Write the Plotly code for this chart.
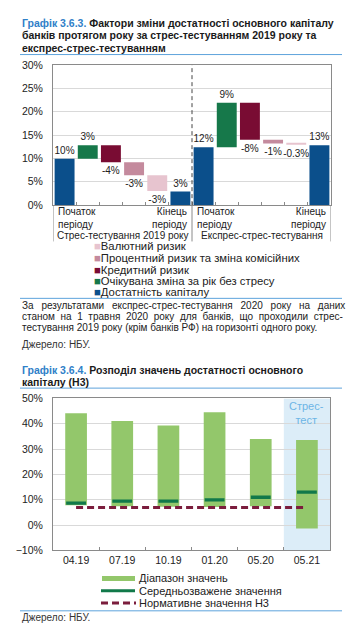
import plotly.graph_objects as go
import numpy as np

W, H = 351, 633
FONT = "Liberation Sans, Arial, sans-serif"

# ---------------- Chart 1 data ----------------
groups1 = ["Стрес-тестування 2019 року", "Експрес-стрес-тестування"]
start_vals = [9.9, 12.4]
changes = {
    "Очікувана зміна за рік без стресу": [2.9, 9.5],
    "Кредитний ризик": [-3.6, -7.9],
    "Процентний ризик та зміна комісійних": [-2.8, -0.8],
    "Валютний ризик": [-3.4, -0.3],
}
end_vals = [2.9, 12.8]
labels_g1 = ["10%", "3%", "-4%", "-3%", "-3%", "3%"]
labels_g2 = ["12%", "9%", "-8%", "-1%", "-0.3%", "13%"]
colors1 = {
    "Достатність капіталу": "#0b4f8b",
    "Очікувана зміна за рік без стресу": "#16784a",
    "Кредитний ризик": "#790c33",
    "Процентний ризик та зміна комісійних": "#c48a9d",
    "Валютний ризик": "#e7c4cf",
}
legend_order1 = ["Валютний ризик", "Процентний ризик та зміна комісійних",
                 "Кредитний ризик", "Очікувана зміна за рік без стресу",
                 "Достатність капіталу"]

# ---------------- Chart 2 data ----------------
periods = ["04.19", "07.19", "10.19", "01.20", "05.20", "05.21"]
range_min = [7.8, 7.5, 7.3, 7.2, 7.5, -1.3]
range_max = [44.1, 41.1, 39.3, 44.5, 34.0, 33.6]
weighted_avg = [8.7, 9.5, 9.5, 10.0, 11.0, 13.0]
normative = [7, 7, 7, 7, 7, 7]


def px(v):
    return v / W


def py(v):
    return 1 - v / H


fig = go.Figure()

# ---- waterfall chart 1 ----
n_per = 6
labels_all = [labels_g1, labels_g2]
blue_x, blue_y, blue_t = [], [], []
series_data = {k: ([], [], [], []) for k in changes}
for g in range(2):
    off = g * n_per
    level = start_vals[g]
    blue_x.append(off)
    blue_y.append(start_vals[g])
    blue_t.append(labels_all[g][0])
    for i, k in enumerate(changes):
        d = changes[k][g]
        xs, ys, bs, ts = series_data[k]
        xs.append(off + 1 + i)
        ys.append(d)
        bs.append(level)
        ts.append(labels_all[g][1 + i])
        level += d
    blue_x.append(off + 5)
    blue_y.append(end_vals[g])
    blue_t.append(labels_all[g][5])

common_bar = dict(xaxis="x", yaxis="y", width=0.86, textposition="outside",
                  constraintext="none", cliponaxis=False, showlegend=False,
                  textfont=dict(size=10, color="#222", family=FONT),
                  marker_line_width=0)
fig.add_trace(go.Bar(x=blue_x, y=blue_y, text=blue_t,
                     marker_color=colors1["Достатність капіталу"], **common_bar))
for k in changes:
    xs, ys, bs, ts = series_data[k]
    fig.add_trace(go.Bar(x=xs, y=ys, base=bs, text=ts,
                         marker_color=colors1[k], **common_bar))

# ---- chart 2 ----
fig.add_trace(go.Bar(
    x=periods, y=[a - b for a, b in zip(range_max, range_min)], base=range_min,
    width=0.47, marker_color="#93c76b", marker_line_width=0,
    xaxis="x2", yaxis="y2", showlegend=False))
fig.add_trace(go.Bar(
    x=periods, y=[1.3] * len(periods), base=[v - 0.65 for v in weighted_avg],
    width=0.43, marker_color="#11794a", marker_line_width=0,
    xaxis="x2", yaxis="y2", showlegend=False))
fig.add_trace(go.Scatter(
    x=periods, y=normative, mode="lines",
    line=dict(color="#7b1d3d", width=3, dash="7px,4px"),
    xaxis="x2", yaxis="y2", showlegend=False))

axis_common = dict(showline=True, linecolor="#8a8a8a", linewidth=1, mirror=True,
                   tickfont=dict(size=10.5, color="#222", family=FONT), zeroline=False)

fig.update_layout(
    width=W, height=H, margin=dict(l=0, r=0, t=0, b=0),
    paper_bgcolor="white", plot_bgcolor="white", barmode="overlay",
    font=dict(family=FONT, color="#222"),
    xaxis=dict(domain=[px(53), px(331)], anchor="y", range=[-0.5, 11.5],
               tickvals=[i + 0.5 for i in range(11)], ticks="inside", ticklen=3,
               tickcolor="#8a8a8a", showticklabels=False, showgrid=False, **axis_common),
    yaxis=dict(domain=[py(203), py(60)], anchor="x", range=[0, 30], dtick=5,
               ticksuffix="%", showgrid=True, gridcolor="#d9d9d9", ticks="",
               ticklabelstandoff=7, **axis_common),
    xaxis2=dict(domain=[px(53), px(330)], anchor="y2", range=[-0.5, 5.5],
                type="category", ticks="inside", ticklen=3, tickcolor="#8a8a8a",
                tickson="boundaries", showgrid=False, **axis_common),
    yaxis2=dict(domain=[py(555), py(400)], anchor="x2", range=[-10, 50], dtick=10,
                ticksuffix="%", showgrid=True, gridcolor="#d9d9d9", ticks="",
                ticklabelstandoff=7, **axis_common),
)

shapes = []
ann = []
BLUE = "#2f80c8"
LINEBLUE = "#5ea3dc"

# chart 1 dashed separator and group separators below axis
shapes.append(dict(type="line", xref="x", yref="y", x0=5.5, x1=5.5, y0=0, y1=30,
                   line=dict(color="#444", width=1, dash="4px,3px")))
for xv in [-0.5, 5.5, 11.5]:
    shapes.append(dict(type="line", xref="x", yref="paper", x0=xv, x1=xv,
                       y0=py(240), y1=py(203), line=dict(color="#8a8a8a", width=1)))
for g in range(2):
    off = g * n_per
    ann.append(dict(xref="x", yref="paper", x=off - 0.5, y=py(216), xanchor="left",
                    yanchor="middle", xshift=3, align="left", showarrow=False,
                    text="Початок<br>періоду", font=dict(size=10)))
    ann.append(dict(xref="x", yref="paper", x=off + 5.5, y=py(216), xanchor="right",
                    yanchor="middle", xshift=-3, align="right", showarrow=False,
                    text="Кінець<br>періоду", font=dict(size=10)))
    ann.append(dict(xref="x", yref="paper", x=off + 2.5, y=py(233.5), xanchor="center",
                    yanchor="middle", showarrow=False, text=groups1[g], font=dict(size=10)))

# chart 1 legend
leg_y = [245, 257, 269, 280.5, 291.5]
for name, yy in zip(legend_order1, leg_y):
    ann.append(dict(xref="paper", yref="paper", x=px(92), y=py(yy), xanchor="left",
                    yanchor="middle", showarrow=False, align="left",
                    text=f"<span style='color:{colors1[name]}'>■</span>{name}",
                    font=dict(size=11.3)))

# shaded stress-test region chart 2
shapes.append(dict(type="rect", xref="x2", yref="y2", x0=4.5, x1=5.5, y0=-10, y1=50,
                   fillcolor="#dcedf8", line=dict(width=0), layer="below"))
ann.append(dict(xref="x2", yref="paper", x=5, y=py(415), xanchor="center",
                yanchor="middle", showarrow=False, text="Стрес-<br>тест",
                font=dict(size=11, color="#6cb5e6")))

# chart 2 legend
shapes.append(dict(type="rect", xref="paper", yref="paper", x0=px(102), x1=px(135),
                   y0=py(586), y1=py(581), fillcolor="#93c76b", line=dict(width=0)))
shapes.append(dict(type="line", xref="paper", yref="paper", x0=px(101), x1=px(135),
                   y0=py(596), y1=py(596), line=dict(color="#11794a", width=3)))
shapes.append(dict(type="line", xref="paper", yref="paper", x0=px(101), x1=px(136),
                   y0=py(608.5), y1=py(608.5), line=dict(color="#7b1d3d", width=3, dash="7px,4px")))
for t, yy in zip(["Діапазон значень", "Середньозважене значення", "Нормативне значення Н3"],
                 [583.5, 596, 608.5]):
    ann.append(dict(xref="paper", yref="paper", x=px(137), y=py(yy), xanchor="left",
                    yanchor="middle", showarrow=False, text=t, font=dict(size=11)))

# titles
def title_lines(lines, ys):
    for t, yy in zip(lines, ys):
        ann.append(dict(xref="paper", yref="paper", x=px(20), y=py(yy), xanchor="left",
                        yanchor="middle", showarrow=False, align="left", text=t,
                        font=dict(size=10.5, color="#1a1a1a")))

title_lines([f"<b><span style='color:{BLUE}'>Графік 3.6.3.</span> Фактори зміни достатності основного капіталу</b>",
             "<b>банків протягом року за стрес-тестуванням 2019 року та</b>",
             "<b>експрес-стрес-тестуванням</b>"], [17, 30, 43])
title_lines([f"<b><span style='color:{BLUE}'>Графік 3.6.4.</span> Розподіл значень достатності основного</b>",
             "<b>капіталу (Н3)</b>"], [371.5, 383.5])

for yy in [49.5, 298, 389.5, 616.5]:
    shapes.append(dict(type="line", xref="paper", yref="paper", x0=px(20), x1=px(342),
                       y0=py(yy), y1=py(yy), line=dict(color=LINEBLUE, width=1)))

# paragraph (first two lines justified via word spacing)
para = ["За результатами експрес-стрес-тестування 2020 року на даних",
        "станом на 1 травня 2020 року для банків, що проходили стрес-",
        "тестування 2019 року (крім банків РФ) на горизонті одного року."]
word_sp = [5.0, 2.8, 0]
for t, yy, ws in zip(para, [305, 316.5, 328], word_sp):
    ann.append(dict(xref="paper", yref="paper", x=px(20), y=py(yy), xanchor="left",
                    yanchor="middle", showarrow=False,
                    text=f"<span style='word-spacing:{ws}px'>{t}</span>",
                    font=dict(size=10)))
for yy in [345, 623]:
    ann.append(dict(xref="paper", yref="paper", x=px(20), y=py(yy), xanchor="left",
                    yanchor="middle", showarrow=False, text="Джерело: НБУ.",
                    font=dict(size=10, color="#333")))

fig.update_layout(shapes=shapes, annotations=ann)
fig.write_html("out.html")
